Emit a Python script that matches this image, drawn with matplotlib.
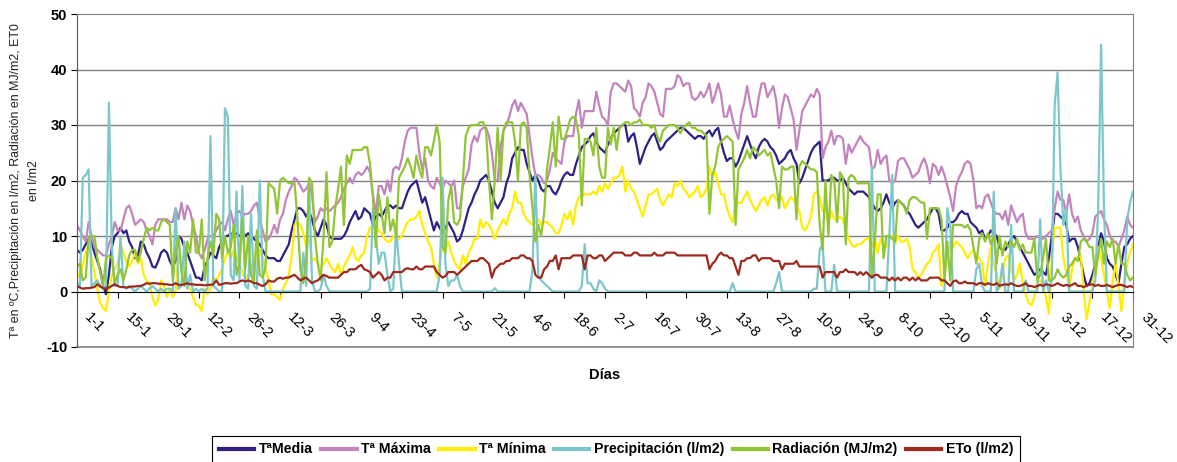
import numpy as np
import matplotlib
matplotlib.use('Agg')
import matplotlib.pyplot as plt
from matplotlib.transforms import ScaledTranslation

plt.rcParams['font.family'] = ['Liberation Sans', 'DejaVu Sans']
plt.rcParams['axes.unicode_minus'] = False

# etiquetas del eje de dias (cada 14 dias)
etiquetas = ['1-1', '15-1', '29-1', '12-2', '26-2', '12-3', '26-3', '9-4', '23-4', '7-5',
             '21-5', '4-6', '18-6', '2-7', '16-7', '30-7', '13-8', '27-8', '10-9', '24-9',
             '8-10', '22-10', '5-11', '19-11', '3-12', '17-12', '31-12']

# valores diarios (365 dias)
t_media = [
    7.5, 7, 7.5, 8.5, 9.5, 9, 7, 5.5, 4, 1, -0.5, 3, 8, 10,
    10.5, 11.5, 10.5, 11, 9, 8, 6, 6.5, 9, 8.5, 7, 6, 4.5, 4.3,
    5.5, 7, 7.5, 7, 5.5, 4.5, 5.5, 10, 9.5, 8, 7, 5.5, 4, 2.5,
    2.5, 2, 4.5, 5.5, 7, 6.5, 6, 8, 9, 10, 10, 10.5, 10, 10.5,
    10, 10.5, 10, 10.5, 10, 9.5, 9, 8.5, 7.5, 6.5, 6, 6, 6, 5.5,
    5.5, 6.5, 7.5, 8.5, 11, 13, 15, 15, 14.5, 13.5, 14.5, 13, 11, 10,
    11.5, 13, 12, 10, 9.5, 9.5, 9.5, 9.5, 10, 11, 12.5, 13.5, 14.5, 13,
    13.5, 15, 14.5, 14, 12, 13.5, 14, 13.5, 14.5, 15.5, 15.5, 15, 15.5, 15,
    15, 16.5, 18, 19, 19.5, 20, 18, 16, 17, 15, 13, 11, 12.5, 11.5,
    10.5, 11.5, 12.5, 11.5, 10.5, 9, 9.5, 11, 13, 15, 16, 17.5, 18.5, 20,
    20.5, 21, 20, 18, 16, 15, 16, 17, 19.5, 21, 24, 25, 26, 25.5,
    25.5, 23, 21.5, 20, 21, 20, 18.5, 18, 19, 19, 18, 17.5, 18.5, 20,
    21, 21.5, 21, 21, 23, 24.5, 26, 26.5, 27, 28, 28.5, 27, 26, 25.5,
    25, 26.5, 27.5, 28.5, 29, 29.5, 30, 30, 27, 28, 28.5, 26, 23, 24.5,
    26, 27, 28, 28.5, 27, 25.5, 26, 27, 27.5, 28, 28.5, 29, 29.5, 29.5,
    29, 28.5, 28, 27.5, 28, 28, 27.5, 28.5, 29, 28, 29, 29.5, 27, 25,
    23.5, 24, 24, 22.5, 23.5, 25, 26.5, 28, 26.5, 25, 24, 26, 27, 27.5,
    27, 26, 25.5, 24.5, 23, 23.5, 24, 25, 25.5, 24, 23, 19.5, 20.5, 22,
    23.5, 25, 26, 26.5, 27, 20, 20, 20, 20.5, 20.5, 20, 20, 20.5, 19.5,
    18.5, 18, 17.5, 18, 18, 18, 17.5, 17, 16, 15, 14.5, 15, 16, 17.5,
    16, 15, 16, 16.5, 16, 15.5, 14.5, 14, 13, 12, 11.5, 12, 12.5, 13,
    14, 15, 15, 14, 11, 11, 11.5, 12.5, 12.5, 13, 14, 14.5, 14, 14,
    12.5, 12, 11.5, 10.5, 11, 9.5, 10, 11, 10.5, 10, 8, 7.5, 7.5, 8.5,
    9.5, 10, 9, 8, 7, 6, 5, 4, 3, 3.5, 4, 3.5, 3, 6,
    10, 14, 14, 13.5, 13, 12, 9, 9.5, 9.5, 8, 5.5, 3, 1, 1.5,
    3, 5, 8, 10.5, 9, 6, 5, 4.5, 3, 1.5, 5, 8, 8.5, 9.5,
    10]

t_maxima = [
    12, 11, 10, 9, 12.5, 10, 8, 7.5, 7, 6.5, 6.5, 8.5, 10, 12.5,
    11, 11, 13, 15, 15.5, 14, 12, 12.5, 13, 12.5, 11, 10, 8.5, 12,
    13, 13, 13, 13, 12.5, 12.5, 15, 13, 16, 13, 15.5, 14.5, 12, 10,
    7, 6, 7.5, 9.5, 10, 10, 11, 12, 12.5, 11, 13, 14.5, 12, 14,
    14.5, 13.5, 14, 14, 14.5, 15.5, 16, 13, 11, 9, 9.5, 10.5, 12, 10.5,
    13, 14, 16.5, 18, 19, 20.5, 20, 19, 18, 18.5, 19.5, 17.5, 12.5, 13.5,
    15, 14.5, 15, 14.5, 15, 15.5, 16, 17, 18.5, 19.5, 20.5, 19.5, 21, 21.5,
    21, 21.5, 22.5, 21.5, 17.5, 14, 19, 19, 17.5, 20, 18, 22, 22.5, 22,
    24, 27, 29, 29.5, 29.5, 29.5, 25, 22, 24, 20, 19, 18.5, 20.5, 19.5,
    18.5, 20, 19.5, 19, 20, 15, 15, 19, 20.5, 22, 26.5, 28, 27, 29,
    29.5, 29.5, 28, 25, 20, 20, 26, 29, 30, 31.5, 33.5, 34.5, 32.5, 34,
    33, 32, 28, 24, 21, 21, 20.5, 19.5, 20, 22, 25, 24, 23.5, 23,
    27, 28, 28, 28, 32, 34.5, 29.5, 32.5, 32.5, 32.5, 32.5, 36, 33.5, 31.5,
    31, 30, 36, 37.5, 37.5, 37, 36.5, 36, 38, 37, 33, 32.5, 31.5, 34,
    35, 37.5, 37, 36, 34, 32, 31.5, 36.5, 36.5, 36.5, 37, 39, 38.5, 37,
    37.5, 37.5, 35, 34.5, 35, 36, 35, 36, 37.5, 34, 35.5, 37.5, 35.5, 31.5,
    31.5, 33.5, 31, 29, 27.5, 32, 34, 37, 34, 31.5, 31.5, 35, 37.5, 37.5,
    35, 36, 37, 34.5, 29.5, 33, 35.5, 35, 33, 31, 25.5, 29, 32.5, 33.5,
    34.5, 35.5, 35, 36.5, 35.5, 24, 26, 27, 29, 26.5, 28, 28, 27.5, 23,
    26.5, 25, 26, 27, 28, 27, 26.5, 26, 22, 22.5, 25.5, 23, 24, 24.5,
    20, 19.5, 20, 23.5, 24, 24, 23, 22, 20.5, 21, 21.5, 23, 24, 22.5,
    19.5, 23, 22.5, 21, 22.5, 21, 19, 17, 14.5, 19, 20.5, 21.5, 23, 23.5,
    23, 20, 15, 15.5, 15, 17, 17.5, 16, 14.5, 14, 14, 13, 14.5, 12,
    15.5, 14, 12.5, 13.5, 14, 10.5, 9.5, 9.5, 9.5, 10, 9.5, 9.5, 10, 10.5,
    11, 15, 18, 16.5, 16.5, 14, 17.5, 14, 12.5, 13.5, 11, 10, 9, 9.5,
    10.5, 13.5, 14, 14.5, 13, 12, 10, 9, 9, 8, 9.5, 11, 13.5, 12,
    11.5]

t_minima = [
    3.5, 2.5, 5, 7, 8.5, 6, 3.5, 0.5, -2, -3, -3.5, 0, 3, 4,
    5, 8.5, 7, 5.5, 4.5, 5.5, 7, 5, 6, 3, 2, 1.5, -1, -2.5,
    -1.5, 2, 1, -1, 0.5, -1, 0, 6.5, 4.5, 3, 1.5, 0.5, -1, -2.5,
    -2.5, -3.5, 0.5, -0.5, 0.5, 2.5, 2, 3, 4, 6, 7, 6, 7.5, 6,
    5, 3.5, 2, 3, 4, 6, 7, 7.5, 6, 4, 2, -0.5, -0.5, -1,
    -1.5, 0.5, 1.5, 3, 6.5, 12, 12.5, 12, 10.5, 8, 9.5, 5.5, 6, 5,
    4.5, 5, 6, 5, 4, 3.5, 5, 3, 4.5, 5.5, 6.5, 8, 6, 5.5,
    6.5, 7, 10, 11.5, 11.5, 12, 11, 10.5, 9.5, 9, 9, 10, 9.5, 9.5,
    10, 11.5, 12.5, 13, 13, 13.5, 14.5, 12, 10.5, 9, 8, 5, 2.5, 5,
    8.5, 7.5, 9, 7, 5.5, 4.5, 4, 6.5, 5, 7, 8, 9.5, 9.5, 13,
    11.5, 12.5, 12, 11, 9.5, 11, 12, 13, 12, 14, 15, 18, 16, 16,
    14, 13, 12.5, 12, 12.5, 13, 12, 12.5, 12.5, 12, 11.5, 10.5, 10.5, 12,
    14, 13, 14.5, 12, 15.5, 17, 17.5, 17.5, 17.5, 17.5, 18, 17.5, 19, 18,
    19.5, 18.5, 19.5, 20.5, 20.5, 21, 22.5, 18, 20, 18.5, 18, 16.5, 15, 13.5,
    15.5, 17.5, 17.5, 18, 18.5, 16.5, 15.5, 16.5, 17.5, 17, 19.5, 19, 20, 18.5,
    18, 17, 17.5, 18, 19, 17, 17.5, 18.5, 22.5, 20.5, 21.5, 19.5, 17.5, 17.5,
    15, 13.5, 12.5, 16, 16, 16, 17, 18, 16.5, 15.5, 14.5, 15.5, 16.5, 17,
    15.5, 17, 17.5, 16.5, 16.5, 17, 15, 16, 17, 16.5, 15.5, 14.5, 11.5, 11,
    12, 13.5, 17.5, 18, 17, 14.5, 15, 12.5, 14.5, 13, 13, 13.5, 13, 11,
    9.5, 8.5, 8, 8.5, 8.5, 9, 9.5, 9.5, 8, 9.5, 7, 9.5, 8.5, 8,
    10, 10, 8.5, 10, 9, 9, 9.5, 8, 4, 3.5, 2.5, 3, 4, 5,
    5.5, 7, 7.5, 8.5, 1, 3, 6, 9, 8, 9, 8.5, 8, 7, 6,
    7, 7.5, 6.5, 6, 5, 1, 5, 8, 5, 3, 0.5, 3.5, 6, 6.5,
    4, 2, 3, 5, 1.5, -0.5, -2, -2.5, -1, 1.5, 2, 1, -1, -4,
    6, 11.5, 11.5, 11.5, 6, 3.5, 0.5, 4, 6, 6, 6.5, 0, -5, -2,
    1, 4.5, 8, 6, 3, 0, -3, 2, 5, 1, -3.5, 2, 5, 7,
    8.5]

precipitacion = [
    1.5, 1, 20.5, 21, 22, 1, 1.5, 2, 1, 0.5, 1, 34, 8, 1,
    1, 10, 1, 0.5, 1, 0.5, 0, 0.5, 1, 0.5, 0, 0.5, 1, 0.5,
    0, 0.5, 0, 0.5, 0.5, 0, 15, 0.5, 1, 9, 0.5, 3, 0, 0.5,
    0, 0.5, 0, 0.5, 28, 1, 0.5, 0, 0, 33, 31.5, 3, 2, 18,
    2, 19, 1, 0.5, 14, 1, 0.5, 20, 3, 0, 0, 0, 0, 0,
    0, 0, 0, 0, 0, 0, 0, 0, 7, 1, 20, 2, 0, 0,
    0.5, 3, 1, 0, 0, 0, 0, 0, 0, 0, 0, 0, 0, 0,
    0, 0, 0, 0.5, 15, 10, 5, 7, 7, 3, 0, 0.5, 11.5, 5,
    0, 0, 0, 0, 0, 0, 0, 0, 0, 0, 0, 0, 0, 3,
    20.5, 5, 1, 2, 2, 3, 1, 0, 0, 0, 0, 0, 0, 0,
    0, 0, 0, 0, 0.6, 0, 0, 0, 0, 0, 0, 0, 0, 0,
    0, 0, 0, 4, 21, 3, 2, 1.5, 1, 0.5, 0, 0, 0, 0,
    0, 0, 0, 0, 0, 0, 1, 8.5, 1.5, 1.5, 0.5, 0, 2, 1.5,
    0.5, 0, 0, 0, 0, 0, 0, 0, 0, 0, 0, 0, 0, 0,
    0, 0, 0, 0, 0, 0, 0, 0, 0, 0, 0, 0, 0, 0,
    0, 0, 0, 0, 0, 0, 0, 0, 0, 0, 0, 0, 0, 0,
    0, 0, 1.5, 0, 0, 0, 0, 0, 0, 0, 0, 0, 0, 0,
    0, 0, 0, 1.5, 3.5, 0, 0, 0, 0, 0, 0, 0, 0, 0,
    0, 0, 0.5, 0.5, 7.5, 8.5, 0, 0, 0, 4.8, 0, 0, 0, 0,
    0, 0, 0, 0, 0, 0, 0, 0, 22.5, 0, 0, 0, 0, 0,
    10, 21, 0, 0, 0, 0, 0, 0, 0, 0, 0, 0, 0, 0,
    0, 0, 0, 0, 0, 0, 15, 12, 0, 0, 0, 0, 0, 0,
    0, 0, 4, 5, 1, 0, 0, 0, 18, 0, 1, 5, 0, 0,
    12, 0, 0, 0, 0, 2, 0, 0, 0, 0, 13, 0, 2, 0,
    2, 33.5, 39.5, 22, 12, 15, 0, 0, 0, 0, 0, 0, 0, 0,
    0, 2, 15, 44.5, 15, 0, 0, 0, 0, 0, 0, 0, 13, 16,
    18]

radiacion = [
    4.5, 5, 2, 2.5, 9.5, 10, 10, 6, 3.5, 1, 6, 6.5, 6, 1.5,
    3, 4, 2, 4, 6.5, 7.5, 7.5, 5.5, 7, 9.5, 11.5, 11, 11.5, 11,
    11, 12.5, 13, 12.5, 12, 2, 7.5, 10, 3.5, 1, 9, 7, 13, 7,
    7, 13, 2, 6, 9, 6.5, 14, 13, 6, 10, 7, 8, 12, 3,
    5, 13, 4, 10, 3, 1.5, 11, 3, 2.5, 4.5, 19.5, 19, 18.5, 14,
    20, 20.5, 20, 19.5, 19.5, 19.5, 13, 4, 1.5, 6, 20.5, 19.5, 10, 5,
    2, 10, 21.5, 8, 9, 15, 18.5, 22.5, 12, 24.5, 23, 25.5, 25.5, 25.5,
    25.5, 26, 26, 23, 17, 8, 17.5, 14, 10.5, 17, 11, 13, 10, 20.5,
    21.5, 22.5, 24, 22.5, 20.5, 24.5, 22, 20.5, 26, 26, 24.5, 27, 30, 27,
    8, 7, 16.5, 19, 12.5, 12, 13, 20, 28, 29.5, 30, 30, 30, 30.5,
    30.5, 29, 20, 13, 20, 29.5, 20, 29, 30.5, 30.5, 30.5, 27, 20, 30,
    30.5, 29.5, 21, 15, 9, 12, 10, 14, 22, 26, 30.5, 22.5, 31.5, 27.5,
    27.5, 29, 31, 31.5, 31, 28, 15.5, 27.5, 27.5, 27, 24.5, 29.5, 22.5, 20.5,
    20.5, 29.5, 26.5, 29.5, 25.5, 29.5, 30, 30.5, 30.5, 30, 30.5, 30.5, 31, 30,
    30, 30, 29.5, 30, 28, 27, 29, 29.5, 30, 30, 30, 29.5, 28.5, 29.5,
    30, 30.5, 29.5, 29.5, 29, 29, 28.5, 28, 14, 21, 22.5, 26, 27, 27.5,
    28, 27.5, 27, 12, 22, 23, 24, 25.5, 24, 26, 25.5, 24.5, 25, 25.5,
    24.5, 25, 22.5, 20, 15, 22.5, 22, 22, 22.5, 22.5, 13, 22.5, 23.5, 23,
    22.5, 22, 22, 21.5, 12, 7.5, 20, 10, 21, 20, 12.5, 21.5, 20.5, 8.5,
    20.5, 21, 20.5, 19.5, 19.5, 19.5, 19.5, 19.5, 2.5, 9, 17.5, 17.5, 6, 10,
    10, 9.5, 9, 16.5, 16, 15.5, 14, 16.5, 17, 17, 16.5, 16, 16, 9.5,
    15, 15, 15, 15, 13, 2.5, 9, 2, 12, 12, 12, 12, 11.5, 12,
    11, 8, 5, 9.5, 10.5, 9, 10.5, 8.5, 10, 5, 10, 6.5, 9, 8,
    9, 8, 9.5, 7.5, 8.5, 7, 7, 7, 9.5, 2, 3, 6, 9.5, 2,
    2, 2.5, 4, 3, 2.5, 3, 4.5, 5, 6, 5.5, 9, 9.5, 9, 8,
    8, 3, 6.5, 9.5, 5, 9, 8, 9.5, 5, 8.5, 5, 5, 3, 2,
    2.5]

eto = [
    1, 0.7, 0.5, 0.6, 0.6, 0.7, 0.8, 1.3, 0.9, 0.6, 0.5, 0.7, 1, 1.3,
    1, 0.8, 0.8, 0.7, 0.8, 0.9, 0.9, 1, 1, 1.2, 1.5, 1.4, 1.5, 1.5,
    1.4, 1.4, 1.3, 1.3, 1.2, 1.2, 1.5, 1.2, 1.2, 1.3, 1.5, 1.3, 1.3, 1.2,
    1.2, 1.2, 1.1, 1.2, 1.2, 1.3, 2, 1.2, 1.3, 1.5, 1.5, 1.4, 1.5, 1.5,
    1.8, 2, 1.8, 2, 1.8, 1.5, 1.5, 1.2, 1, 1.3, 2, 1.8, 1.8, 2.3,
    2.5, 2.3, 2.5, 2.5, 2.8, 3, 2.5, 2, 2.3, 2.5, 2, 1.5, 1.8, 2,
    2.5, 3, 2.8, 2.5, 2.5, 2.5, 2.5, 3, 3.5, 3.5, 4, 4, 4, 4.5,
    4.8, 4, 3.8, 3.5, 2.5, 3, 3.5, 3, 2, 2.5, 2.5, 3.5, 3.5, 3.5,
    3.5, 4, 4.2, 4, 4, 4.5, 4, 4, 4.5, 4.5, 4.5, 4.5, 3.5, 3,
    2.5, 2.8, 3.5, 3.5, 3.5, 3, 3.5, 4, 4.5, 5, 5.5, 5.5, 5.5, 6,
    6, 5.5, 5, 2.5, 4, 4.5, 5, 5, 5.5, 5.5, 6, 6, 6, 6.5,
    6.5, 6, 6, 5.5, 3, 2.5, 2.5, 4, 4.5, 5.5, 5.5, 6.5, 4, 6,
    6, 6, 6, 6.5, 6.5, 6.5, 6.5, 4, 6.5, 6.5, 6, 6, 6.5, 6.5,
    5.5, 6, 6.5, 7, 7, 7, 7, 6.5, 6.5, 6.5, 7, 7, 6.5, 6.5,
    6.5, 6.5, 6.5, 7, 6.5, 6.5, 6.5, 7, 7, 7, 7, 6.5, 6.5, 6.5,
    6.5, 6.5, 6.5, 6.5, 6.5, 6.5, 6.5, 6.5, 4, 5, 5.5, 6.5, 7, 6.5,
    6.5, 6, 6, 4.5, 3, 5.5, 5.5, 6, 6, 6.5, 6.5, 5.5, 6, 6,
    6, 6, 5.5, 5.5, 5.5, 4, 5, 5, 5, 5, 5.5, 4.5, 4.5, 4.5,
    4.5, 4.5, 4.5, 4.5, 4.5, 2.5, 3.5, 3.5, 3.5, 3.5, 2.5, 3.5, 3.5, 4,
    3.5, 3.5, 3.5, 3, 3.5, 3, 3.5, 3, 2.5, 3, 3, 2.5, 2.5, 2.5,
    2, 2.5, 2, 2.5, 2, 2.5, 2.5, 2, 2.5, 2, 2.5, 2, 2, 2,
    2.5, 2.5, 2.5, 2.5, 2, 2, 1.5, 1, 1.8, 2, 1.5, 1.5, 1.8, 1.5,
    1.5, 1.5, 1.2, 1.5, 1.5, 1.2, 1.5, 1.3, 1.2, 1.5, 1, 1.2, 1.3, 1.2,
    1.5, 1.2, 1, 1, 1.2, 1.5, 1, 1, 0.8, 1, 1.2, 1, 1.3, 1.2,
    1, 1.2, 1.5, 1.2, 1, 1.2, 1, 1.2, 1.5, 1, 1, 0.8, 1, 1.2,
    1.3, 1, 1.2, 1, 1, 1.2, 1, 0.8, 1, 1.2, 1.2, 1, 0.8, 1,
    0.8]

dias = np.arange(len(t_media))
pos_etiquetas = np.arange(0, 365, 14)

fig = plt.figure(figsize=(11.77, 4.62), dpi=100)
ax = fig.add_axes([77/1177, 1 - 347/462, (1133 - 77)/1177, (347 - 14)/462])

series = [(t_media, 'TªMedia', '#2E2185'),
          (t_maxima, 'Tª Máxima', '#C384BE'),
          (t_minima, 'Tª Mínima', '#FFEE00'),
          (precipitacion, 'Precipitación (l/m2)', '#7CC7CB'),
          (radiacion, 'Radiación (MJ/m2)', '#92C535'),
          (eto, 'ETo (l/m2)', '#9E2A1E')]
for vals, nombre, color in series:
    ax.plot(dias, vals, color=color, lw=1.6, label=nombre, solid_joinstyle='round')

ax.set_xlim(0, 364)
ax.set_ylim(-10, 50)
ax.set_yticks(range(-10, 51, 10))
for y in range(10, 50, 10):
    ax.axhline(y, color='#808080', lw=1, zorder=0)
ax.axhline(-10, color='#808080', lw=1.2, clip_on=False)

ax.spines['bottom'].set_position(('data', 0))
ax.spines['bottom'].set_color('black')
ax.spines['top'].set_color('#808080')
ax.spines['right'].set_color('#808080')
ax.spines['left'].set_color('#555555')

# marcas del eje x cada 14 dias, etiquetas giradas como texto
ax.set_xticks(pos_etiquetas)
ax.set_xticklabels([])
ax.tick_params(axis='x', length=4, direction='out')
desplaza = ScaledTranslation(0.15, -0.19, fig.dpi_scale_trans)
for xp, et in zip(pos_etiquetas, etiquetas):
    ax.text(xp, 0, et, rotation=-45, ha='left', va='top', rotation_mode='anchor',
            fontsize=10.5, transform=ax.transData + desplaza, clip_on=False)

ax.tick_params(axis='y', length=4, direction='out', labelsize=10.5, pad=3)
for lbl in ax.get_yticklabels():
    lbl.set_fontweight('bold')

fig.text(605/1177, 1 - 375/462, 'Días', ha='center', va='center',
         fontweight='bold', fontsize=10.5)
fig.text(25/1177, 1 - 181/462,
         'Tª en ºC,Precipitación en l/m2, Radiación en MJ/m2, ET0\nen l/m2',
         rotation=90, ha='center', va='center', fontsize=8.9,
         linespacing=1.6, multialignment='center', color='#222222')

leg = fig.legend(loc='upper center', bbox_to_anchor=(616/1177, 1 - 429/462), ncol=6,
                 frameon=True, fancybox=False, edgecolor='black', framealpha=1,
                 prop={'weight': 'bold', 'size': 10.2}, handlelength=2.5,
                 handletextpad=0.3, columnspacing=0.6, borderpad=0.45)
leg.get_frame().set_linewidth(0.8)
for linea in leg.get_lines():
    linea.set_linewidth(3)

fig.savefig('out.png', dpi=100)
